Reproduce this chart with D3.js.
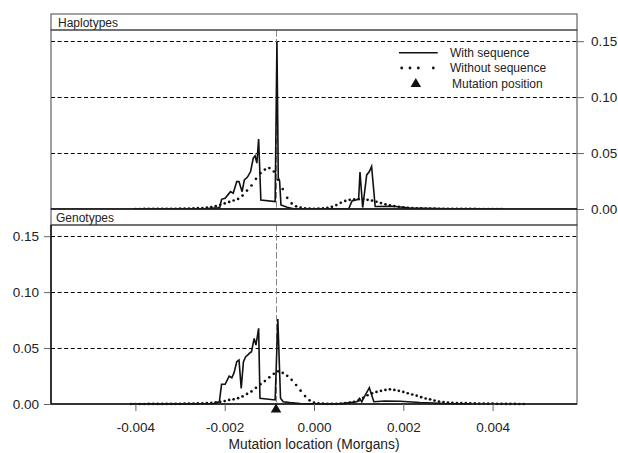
<!DOCTYPE html>
<html>
<head>
<meta charset="utf-8">
<script src="https://cdnjs.cloudflare.com/ajax/libs/d3/7.8.5/d3.min.js"></script>
<style>
  body { margin: 0; background: #fff; }
  svg text { font-family: "Liberation Sans", Arial, Helvetica, sans-serif; fill: #222; }
</style>
</head>
<body>
<div id="root"></div>
<script>
// panel names
var panels = ["Haplotypes", "Genotypes"];
var mutationPos = -0.00085;

// x grid of the "without sequence" curve, in units of 1e-4 Morgans
var dotX = [-42,-41,-40,-39,-38,-37,-36,-35,-34,-33,-32,-31,-30,-29,-28,-27,-26,-25,-24,-23,-22,-21,-20,-19,-18,-17,-16,-15,-14,-13,-12,-11,-10,-9,-8,-7,-6,-5,-4,-3,-2,-1,0,1,2,3,4,5,6,7,8,9,10,11,12,13,14,15,16,17,18,19,20,21,22,23,24,25,26,27,28,29,30,31,32,33,34,35,36,37,38,39,40,41,42,43,44,45,46,47];

var hapWithout = [null,null,0,0,0.0001,0.0001,0.0001,0.0001,0.0001,0.0002,0.0002,0.0002,0.0003,0.0003,0.0004,0.0005,0.0007,0.0009,0.0012,0.0017,0.0025,0.0038,0.0050,0.0063,0.0076,0.0090,0.0120,0.0165,0.0210,0.0270,0.0320,0.0352,0.0366,0.0335,0.0262,0.0178,0.0100,0.0050,0.0024,0.0012,0.0006,0.0003,0.0002,0.0003,0.0006,0.0011,0.0019,0.0035,0.0056,0.0072,0.0082,0.0087,0.0088,0.0087,0.0082,0.0075,0.0065,0.0053,0.0042,0.0033,0.0026,0.0020,0.0015,0.0011,0.0008,0.0006,0.0005,0.0004,0.0003,0.0003,0.0002,0.0002,0.0002,0.0001,0.0001,0.0001,0.0001,0.0001,0.0001,0,0,0,0,0,0,null,null,null,null,null];

var genWithout = [null,0,0,0,0,0.0001,0.0001,0.0001,0.0001,0.0001,0.0002,0.0002,0.0002,0.0003,0.0003,0.0004,0.0005,0.0006,0.0008,0.0010,0.0014,0.0019,0.0026,0.0036,0.0042,0.0052,0.0068,0.0090,0.0112,0.0145,0.0177,0.0205,0.0238,0.0270,0.0292,0.0278,0.0252,0.0216,0.0170,0.0119,0.0071,0.0033,0.0012,0.0005,0.0003,0.0002,0.0002,0.0002,0.0004,0.0007,0.0012,0.0019,0.0031,0.0055,0.0078,0.0095,0.0108,0.0118,0.0126,0.0131,0.0126,0.0118,0.0108,0.0096,0.0085,0.0074,0.0061,0.0049,0.0042,0.0031,0.0022,0.0017,0.0013,0.0011,0.0009,0.0008,0.0007,0.0006,0.0005,0.0004,0.0004,0.0003,0.0003,0.0002,0.0002,0.0001,0.0001,0.0001,0,0];

// "with sequence" curves: [location (Morgans), density]
var hapWith = [[-0.0040,0],[-0.0030,0.0001],[-0.0024,0.0003],[-0.00215,0.0010],[-0.00211,0.0015],[-0.00207,0.0087],[-0.00199,0.0096],[-0.00187,0.0155],[-0.00181,0.0141],[-0.00173,0.0245],[-0.00168,0.0245],[-0.00161,0.0155],[-0.00156,0.0260],[-0.00149,0.0285],[-0.00142,0.0335],[-0.00136,0.0456],[-0.00132,0.0476],[-0.00128,0.0410],[-0.00124,0.0626],[-0.00119,0.0081],[-0.00087,0.0066],[-0.00083,0.1494],[-0.00080,0.0276],[-0.00077,0.0250],[-0.00074,0.0036],[-0.00060,0.0015],[-0.00046,0.0002],[0.00070,0.0001],[0.00078,0.0005],[0.00085,0.0072],[0.00094,0.0080],[0.00100,0.0090],[0.00103,0.0330],[0.00109,0.0013],[0.00118,0.0305],[0.00124,0.0335],[0.00129,0.0380],[0.00137,0.0022],[0.00177,0.0024],[0.00215,0.0009],[0.0030,0.0002],[0.0042,0]];

var genWith = [[-0.0041,0],[-0.0030,0.0001],[-0.00225,0.0004],[-0.00212,0.0020],[-0.00207,0.0176],[-0.00199,0.0176],[-0.00190,0.0250],[-0.00184,0.0235],[-0.00179,0.0280],[-0.00173,0.0378],[-0.00168,0.0393],[-0.00163,0.0140],[-0.00158,0.0378],[-0.00153,0.0423],[-0.00148,0.0438],[-0.00145,0.0452],[-0.00140,0.0467],[-0.00134,0.0586],[-0.00130,0.0527],[-0.00124,0.0676],[-0.00121,0.0051],[-0.00087,0.0036],[-0.00081,0.0760],[-0.00075,0.0051],[-0.00069,0.0020],[-0.00054,0.0012],[-0.00031,0.0003],[0.00058,0.0001],[0.00096,0.0020],[0.00102,0.0051],[0.00107,0.0020],[0.00112,0.0060],[0.00124,0.0146],[0.00134,0.0020],[0.00159,0.0027],[0.00193,0.0025],[0.00237,0.0013],[0.00293,0.0004],[0.00349,0]];

var xTicks = [-0.004, -0.002, 0, 0.002, 0.004];
var xTickLabels = ["-0.004", "-0.002", "0.000", "0.002", "0.004"];
var yTicks = [0, 0.05, 0.10, 0.15];
var yTickLabels = ["0.00", "0.05", "0.10", "0.15"];
var legendLabels = ["With sequence", "Without sequence", "Mutation position"];

var w = 618, h = 453;
var left = 51, right = 577;
var stripH = 16;
// top of each strip, plot bottom of each panel
var stripTop = [14, 209];
var plotBottom = [209, 404];

var svg = d3.select("#root").append("svg").attr("width", w).attr("height", h);
svg.append("rect").attr("width", w).attr("height", h).attr("fill", "white");

var x = d3.scaleLinear().domain([-0.00589, 0.00589]).range([left, right]);

var withData = [hapWith, genWith];
var withoutData = [hapWithout, genWithout];

panels.forEach(function(name, i) {
  var top = stripTop[i] + stripH;
  var y = d3.scaleLinear().domain([0, 0.16]).range([plotBottom[i], top]);
  var g = svg.append("g");

  // dashed grid
  g.selectAll(".grid").data(yTicks.slice(1)).enter().append("line")
    .attr("x1", left).attr("x2", right)
    .attr("y1", function(d) { return Math.round(y(d)) + 0.5; })
    .attr("y2", function(d) { return Math.round(y(d)) + 0.5; })
    .attr("stroke", "#000").attr("stroke-width", 1).attr("stroke-dasharray", "4,2.6");

  // mutation position
  g.append("line")
    .attr("x1", Math.round(x(mutationPos)) + 0.5).attr("x2", Math.round(x(mutationPos)) + 0.5)
    .attr("y1", top).attr("y2", plotBottom[i])
    .attr("stroke", "#888").attr("stroke-width", 1).attr("stroke-dasharray", "6.5,2.5");

  // with sequence
  var line = d3.line().x(function(d) { return x(d[0]); }).y(function(d) { return y(d[1]); });
  g.append("path").datum(withData[i]).attr("d", line)
    .attr("fill", "none").attr("stroke", "#111").attr("stroke-width", 1.6).attr("stroke-linejoin", "miter");

  // without sequence
  var pts = dotX.map(function(d, k) { return [d * 1e-4, withoutData[i][k]]; })
    .filter(function(d) { return d[1] !== null; });
  g.selectAll(".dot").data(pts).enter().append("circle")
    .attr("cx", function(d) { return x(d[0]); })
    .attr("cy", function(d) { return y(d[1]); })
    .attr("r", 1.35).attr("fill", "#111");

  // strip
  svg.append("rect").attr("x", left).attr("y", stripTop[i]).attr("width", right - left).attr("height", stripH)
    .attr("fill", "white").attr("stroke", "#444").attr("stroke-width", 1);
  svg.append("text").attr("x", left + (i === 0 ? 7 : 5)).attr("y", stripTop[i] + 12.5)
    .style("font-size", "12px").text(name);

  // frame
  svg.append("rect").attr("x", left).attr("y", top).attr("width", right - left).attr("height", plotBottom[i] - top)
    .attr("fill", "none").attr("stroke", "#444").attr("stroke-width", 1);

  // y axis: right for top panel, left for bottom
  var yAxis = (i === 0 ? d3.axisRight(y) : d3.axisLeft(y))
    .tickValues(yTicks).tickFormat(function(d, k) { return yTickLabels[k]; })
    .tickSize(7).tickPadding(i === 0 ? 7 : 5);
  var ya = svg.append("g").attr("transform", "translate(" + (i === 0 ? right : left) + ",0)").call(yAxis);
  ya.select(".domain").remove();
  ya.selectAll("line").attr("stroke", "#666");
  ya.selectAll("text").style("font-size", "13.5px").style("fill", "#222");
});

// heavier lines
svg.append("line").attr("x1", left).attr("x2", right).attr("y1", plotBottom[0]).attr("y2", plotBottom[0])
  .attr("stroke", "#111").attr("stroke-width", 1.5);
svg.append("line").attr("x1", left).attr("x2", right).attr("y1", plotBottom[1]).attr("y2", plotBottom[1])
  .attr("stroke", "#111").attr("stroke-width", 1.5);
svg.append("line").attr("x1", left).attr("x2", left).attr("y1", stripTop[1] + stripH).attr("y2", plotBottom[1])
  .attr("stroke", "#111").attr("stroke-width", 1.5);

// x axis
var xAxis = d3.axisBottom(x).tickValues(xTicks)
  .tickFormat(function(d, k) { return xTickLabels[k]; }).tickSize(7).tickPadding(11);
var xa = svg.append("g").attr("transform", "translate(0," + plotBottom[1] + ")").call(xAxis);
xa.select(".domain").remove();
xa.selectAll("line").attr("stroke", "#666");
xa.selectAll("text").style("font-size", "13.5px").style("fill", "#222");

// mutation marker on x axis
svg.append("path").attr("d", d3.symbol().type(d3.symbolTriangle).size(48))
  .attr("transform", "translate(" + x(mutationPos) + "," + (plotBottom[1] + 5.5) + ")")
  .attr("fill", "#111");

// axis title
svg.append("text").attr("x", x(0)).attr("y", 449).attr("text-anchor", "middle")
  .style("font-size", "13.8px").text("Mutation location (Morgans)");

// legend
var lg = svg.append("g");
lg.append("line").attr("x1", 399).attr("x2", 437.7).attr("y1", 52.7).attr("y2", 52.7)
  .attr("stroke", "#111").attr("stroke-width", 1.6);
lg.selectAll(".ldot").data([0, 8.3, 16.6, 31.6]).enter().append("circle")
  .attr("cx", function(d) { return 401.7 + d; }).attr("cy", 68).attr("r", 1.4).attr("fill", "#111");
lg.append("path").attr("d", d3.symbol().type(d3.symbolTriangle).size(48))
  .attr("transform", "translate(415.8,84)").attr("fill", "#111");
lg.selectAll(".ltext").data(legendLabels).enter().append("text")
  .attr("x", function(d, k) { return k === 2 ? 452 : 450; })
  .attr("y", function(d, k) { return 57 + k * 15.3; })
  .style("font-size", "12px").text(function(d) { return d; });
</script>
</body>
</html>
